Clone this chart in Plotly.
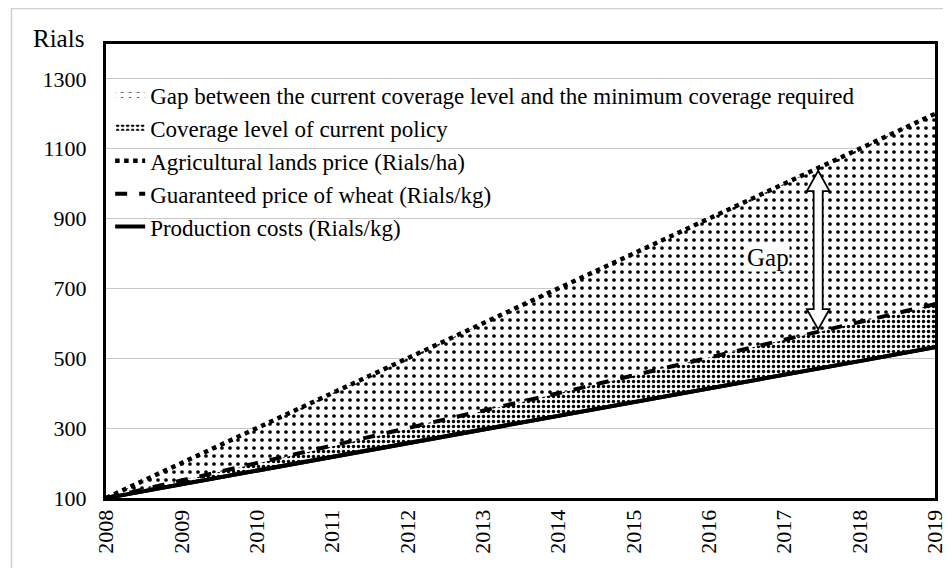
import plotly.graph_objects as go

years = [2008, 2009, 2010, 2011, 2012, 2013, 2014, 2015, 2016, 2017, 2018, 2019]
lands_price = [100, 200, 300, 400, 500, 600, 700, 800, 900, 1000, 1100, 1200]
wheat_price = [100, 150, 199, 248, 298, 349, 400, 451, 503, 553, 604, 655]
prod_costs = [100, 139, 178, 217, 257, 296, 335, 374, 414, 453, 492, 532]
y_ticks = [100, 300, 500, 700, 900, 1100, 1300]

FONT = "Liberation Serif, Times New Roman, serif"

fig = go.Figure()

# production line also serves as baseline for the coverage fill
fig.add_trace(go.Scatter(x=years, y=prod_costs, mode="lines",
                         name="Production costs (Rials/kg)",
                         line=dict(color="black", width=4),
                         legendrank=5, legendgroup="g5"))
fig.add_trace(go.Scatter(
    x=years, y=wheat_price, mode="none", fill="tonexty",
    name="Coverage level of current policy",
    fillpattern=dict(shape=".", size=5, solidity=0.38, fgcolor="black",
                     fgopacity=1, bgcolor="white"),
    legendrank=2, legendgroup="g2"))
fig.add_trace(go.Scatter(
    x=years, y=lands_price, mode="none", fill="tonexty",
    name="Gap between the current coverage level and the minimum coverage required",
    fillpattern=dict(shape=".", size=8, solidity=0.17, fgcolor="black",
                     fgopacity=1, bgcolor="white"),
    legendrank=1, legendgroup="g1"))
fig.add_trace(go.Scatter(x=years, y=lands_price, mode="lines",
                         name="Agricultural lands price (Rials/ha)",
                         line=dict(color="black", width=4.5, dash="dot"),
                         legendrank=3, legendgroup="g3"))
fig.add_trace(go.Scatter(x=years, y=wheat_price, mode="lines",
                         name="Guaranteed price of wheat (Rials/kg)",
                         line=dict(color="black", width=4, dash="dash"),
                         legendrank=4, legendgroup="g4"))
# redraw production line on top of fills
fig.add_trace(go.Scatter(x=years, y=prod_costs, mode="lines", showlegend=False,
                         line=dict(color="black", width=4), hoverinfo="skip"))

# double-headed block arrow marking the gap
ax = 2017.45
y_lo, y_hi = 583, 1037
sw, hw, hl = 0.06, 0.15, 58
path = (f"M {ax},{y_hi} L {ax+hw},{y_hi-hl} L {ax+sw},{y_hi-hl} L {ax+sw},{y_lo+hl} "
        f"L {ax+hw},{y_lo+hl} L {ax},{y_lo} L {ax-hw},{y_lo+hl} L {ax-sw},{y_lo+hl} "
        f"L {ax-sw},{y_hi-hl} L {ax-hw},{y_hi-hl} Z")
fig.add_shape(type="path", path=path, xref="x", yref="y",
              fillcolor="white", line=dict(color="black", width=1.8))

fig.add_annotation(x=2016.78, y=790, text="Gap", showarrow=False,
                   bgcolor="white", borderpad=0,
                   font=dict(family=FONT, size=25, color="black"))

fig.add_annotation(x=-0.057, y=1.013, xref="paper", yref="paper", text="Rials",
                   showarrow=False, xanchor="center", yanchor="middle",
                   font=dict(family=FONT, size=25, color="black"))

# outer light frame
fig.add_shape(type="rect", xref="paper", yref="paper", x0=-0.114, x1=1.014, y0=-0.3, y1=1.078,
              line=dict(color="#d0d0d0", width=1.5), fillcolor="rgba(0,0,0,0)", layer="below")

fig.update_layout(
    width=951, height=568,
    margin=dict(l=98, r=22, t=36, b=78),
    paper_bgcolor="white", plot_bgcolor="white",
    font=dict(family=FONT, size=22, color="black"),
    showlegend=True,
    legend=dict(x=0.005, y=0.935, xanchor="left", yanchor="top",
                bgcolor="rgba(0,0,0,0)", traceorder="grouped", tracegroupgap=0,
                font=dict(family=FONT, size=23, color="black")),
    xaxis=dict(range=[2008, 2019], tickvals=years, ticktext=[str(y) for y in years],
               tickangle=-90, showgrid=False, zeroline=False,
               showline=True, linecolor="black", linewidth=3, mirror=True,
               ticks="", tickfont=dict(family=FONT, size=22)),
    yaxis=dict(range=[100, 1400], tickvals=y_ticks, showgrid=True,
               gridcolor="#c8c8c8", gridwidth=1, zeroline=False,
               showline=True, linecolor="black", linewidth=3, mirror=True,
               ticks="", ticklabelstandoff=12, tickfont=dict(family=FONT, size=22)),
)

fig.write_html("out.html")
